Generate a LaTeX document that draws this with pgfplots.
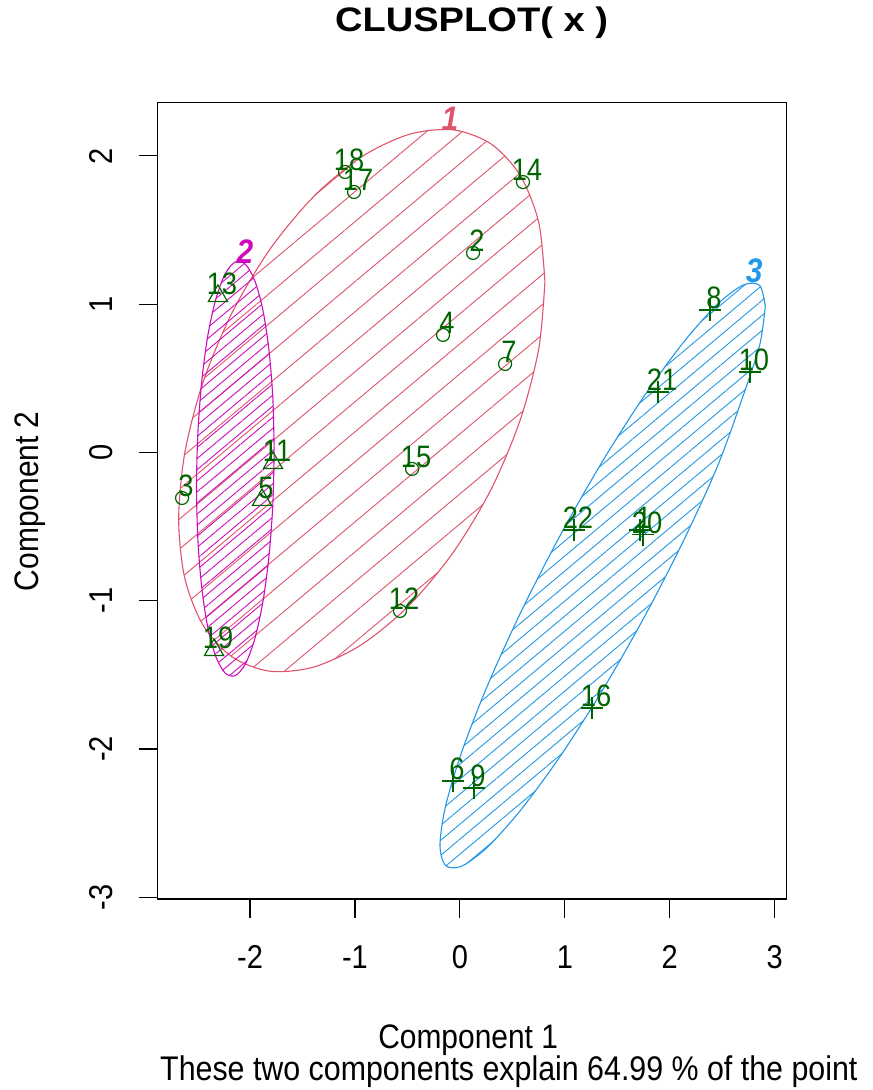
\documentclass[border=0pt]{standalone}
\usepackage{fontspec}
\setmainfont{Liberation Sans}[FakeStretch=0.88]
\newfontfamily\titlefont{Liberation Sans}[FakeStretch=1.12]
\newfontfamily\subfont{Liberation Sans}[FakeStretch=0.888]
\usepackage{pgfplots}
\usepackage{pgfplotstable}
\pgfplotsset{compat=1.18}
\usetikzlibrary{patterns.meta}
\definecolor{cred}{HTML}{DF536B}
\definecolor{cmag}{HTML}{CD0BBC}
\definecolor{cblue}{HTML}{2297E6}
\definecolor{dgreen}{RGB}{0,100,0}

\pgfplotstableread{
x y lab
0.125 1.346 2
-2.648 -0.307 3
-0.161 0.793 4
0.430 0.597 7
-0.571 -1.069 12
0.601 1.824 14
-0.456 -0.111 15
-1.009 1.757 17
-1.095 1.892 18
}\clone
\pgfplotstableread{
x y lab
-1.886 -0.320 5
-1.781 -0.071 11
-2.306 1.056 13
-2.343 -1.332 19
}\cltwo
\pgfplotstableread{
x y lab
1.716 -0.523 1
-0.066 -2.216 6
2.383 0.961 8
0.134 -2.263 9
2.764 0.543 10
1.259 -1.723 16
1.745 -0.556 20
1.888 0.408 21
1.087 -0.523 22
}\clthree

\begin{document}
\begin{tikzpicture}
\useasboundingbox (0,0) rectangle (873bp,1090bp);
\begin{axis}[
  at={(157.7bp,191bp)}, anchor=south west,
  scale only axis, width=628.8bp, height=796.7bp,
  xmin=-2.880, xmax=3.112, ymin=-3.012, ymax=2.362,
  clip=false,
  axis line style={line width=1.1bp, black},
  tick pos=left, tick align=outside,
  major tick length=19bp,
  tick style={line width=1.1bp, black},
  xtick={-2,-1,0,1,2,3}, xticklabels={-2,-1,0,1,2,3},
  ytick={-3,-2,-1,0,1,2}, yticklabels={-3,-2,-1,0,1,2},
  ticklabel style={font=\fontsize{33bp}{38bp}\selectfont, inner sep=0pt},
  xticklabel style={anchor=base},
  xticklabel shift=50bp,
  yticklabel style={rotate=90, anchor=base},
  yticklabel shift=26bp,
  xlabel={Component 1},
  ylabel={Component 2},
  label style={font=\fontsize{34bp}{40bp}\selectfont, inner sep=0pt},
  xlabel style={at={(axis description cs:0.4937,-0.18702)}, anchor=base},
  ylabel style={at={(axis description cs:-0.19036,0.4993)}, rotate=0, anchor=base},
  title={\titlefont\bfseries CLUSPLOT( x )},
  title style={font=\fontsize{34bp}{40bp}\selectfont, inner sep=0pt, at={(axis description cs:0.4991,1.08108)}, anchor=base},
]
% cluster 1 ellipse (red)
\addplot[draw=cred, line width=1.1bp, smooth, pattern={Lines[angle=40,distance=23bp,line width=0.9bp]}, pattern color=cred] coordinates {
(0.810,1.152) (0.751,1.551) (0.576,1.867) (0.299,2.080) (-0.063,2.176) (-0.483,2.146)
(-0.935,1.995) (-1.387,1.731) (-1.808,1.373) (-2.169,0.946) (-2.446,0.478) (-2.621,0.001)
(-2.680,-0.452) (-2.621,-0.851) (-2.446,-1.167) (-2.169,-1.380) (-1.808,-1.476) (-1.387,-1.446)
(-0.935,-1.295) (-0.483,-1.031) (-0.063,-0.673) (0.299,-0.246) (0.576,0.222) (0.751,0.699)
(0.810,1.152)} -- cycle;
% cluster 2 ellipse (magenta)
\addplot[draw=cmag, line width=1.1bp, smooth, pattern={Lines[angle=40,distance=8.5bp,line width=0.9bp]}, pattern color=cmag] coordinates {
(-1.770,0.012) (-1.783,0.369) (-1.820,0.693) (-1.878,0.962) (-1.955,1.159) (-2.044,1.269)
(-2.140,1.285) (-2.236,1.206) (-2.325,1.037) (-2.402,0.790) (-2.460,0.482) (-2.497,0.133)
(-2.510,-0.232) (-2.497,-0.589) (-2.460,-0.913) (-2.402,-1.182) (-2.325,-1.379) (-2.236,-1.489)
(-2.140,-1.505) (-2.044,-1.426) (-1.955,-1.257) (-1.878,-1.010) (-1.820,-0.702) (-1.783,-0.353)
(-1.770,0.012)} -- cycle;
% cluster 3 ellipse (blue)
\addplot[draw=cblue, line width=1.1bp, smooth, pattern={Lines[angle=40,distance=11.5bp,line width=0.9bp]}, pattern color=cblue] coordinates {
(2.910,0.988) (2.857,1.126) (2.702,1.130) (2.456,1.001) (2.135,0.747) (1.761,0.386)
(1.360,-0.058) (0.959,-0.555) (0.585,-1.071) (0.264,-1.570) (0.018,-2.019) (-0.137,-2.386)
(-0.190,-2.648) (-0.137,-2.786) (0.018,-2.790) (0.264,-2.661) (0.585,-2.407) (0.959,-2.046)
(1.360,-1.602) (1.761,-1.105) (2.135,-0.589) (2.456,-0.090) (2.702,0.389) (2.857,0.726)
(2.910,0.988)} -- cycle;

\pgfplotsset{every node near coord/.style={font=\fontsize{31bp}{36bp}\selectfont, text=dgreen, anchor=center, inner sep=0pt, xshift=4bp, yshift=12bp}}
\addplot[only marks, mark=o, mark size=6.5bp, draw=dgreen, mark options={line width=1.2bp, draw=dgreen},
  nodes near coords, point meta=explicit symbolic] table[meta=lab] {\clone};
\addplot[only marks, mark=triangle, mark size=11bp, draw=dgreen, mark options={line width=1.2bp, draw=dgreen},
  nodes near coords, point meta=explicit symbolic] table[meta=lab] {\cltwo};
\addplot[only marks, mark=+, mark size=11bp, draw=dgreen, mark options={line width=1.2bp, draw=dgreen},
  nodes near coords, point meta=explicit symbolic] table[meta=lab] {\clthree};

\node[font=\fontsize{34bp}{40bp}\selectfont\bfseries\itshape, text=cred, inner sep=0pt] at (axis cs:-0.094,2.249) {1};
\node[font=\fontsize{34bp}{40bp}\selectfont\bfseries\itshape, text=cmag, inner sep=0pt] at (axis cs:-2.048,1.352) {2};
\node[font=\fontsize{34bp}{40bp}\selectfont\bfseries\itshape, text=cblue, inner sep=0pt] at (axis cs:2.803,1.224) {3};

\node[anchor=base west, inner sep=0pt, font=\subfont\fontsize{34.2bp}{40bp}\selectfont] at (axis description cs:0.0037,-0.2272) {These two components explain 64.99 \% of the point};
\end{axis}
\end{tikzpicture}
\end{document}
